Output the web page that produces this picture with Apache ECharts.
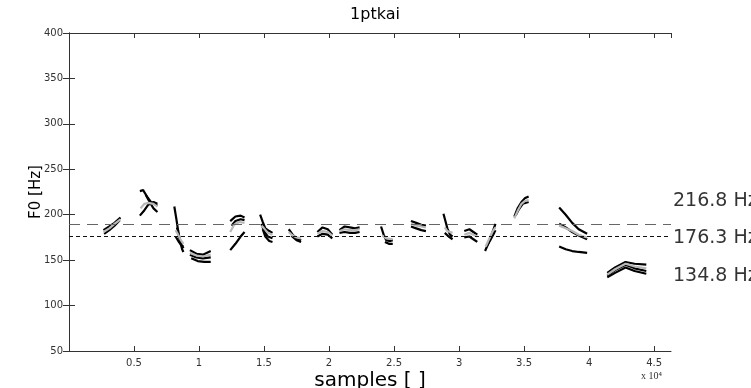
<!DOCTYPE html>
<html>
<head>
<meta charset="utf-8">
<script src="https://cdn.jsdelivr.net/npm/echarts@6/dist/echarts.min.js"></script>
<style>
html,body{margin:0;padding:0;background:#fff;overflow:hidden;}
#chart{width:751px;height:388px;}
</style>
</head>
<body>
<div id="chart"></div>
<script>
// x ticks (in units of 10^4 samples)
const xTickLabels = ['0.5','1','1.5','2','2.5','3','3.5','4','4.5'];
const yTickLabels = [50,100,150,200,250,300,350,400];
const refLevels = [176.3, 189.7];           // dashed mean line, dash-dot line
const rightLabelValues = [216.8, 176.3, 134.8];

// F0 contour tracks: each is a list of voiced segments of [sample, Hz]
const black1 = [
 [[2650,183],[3100,187],[3500,191],[3960,197]],
 [[5450,226],[5700,227],[6000,220],[6300,214],[6800,210]],
 [[8100,209],[8250,196],[8400,182],[8550,170],[8800,163]],
 [[9300,161],[9800,157],[10300,156],[10900,160]],
 [[12400,193],[12800,198],[13200,199],[13500,197]],
 [[14700,200],[14900,192],[15100,185],[15400,182],[15650,180]],
 [[16900,184],[17200,178],[17500,174],[17850,172]],
 [[19100,181],[19500,186],[19900,184],[20250,178]],
 [[20800,183],[21200,187],[21600,186],[22000,185],[22350,186]],
 [[24000,187],[24200,178],[24400,172],[24700,171],[24900,172]],
 [[26300,193],[26700,191],[27100,189],[27450,188]],
 [[28800,201],[28950,193],[29100,185],[29300,178],[29500,176]],
 [[30400,182],[30800,184],[31100,181],[31400,178]],
 [[32000,160],[32300,170],[32600,182],[32800,190]],
 [[34250,198],[34500,207],[34800,214],[35050,218],[35350,220]],
 [[37700,208],[38200,200],[38700,191],[39200,184],[39850,179]],
 [[41400,136],[42000,142],[42800,148],[43500,146],[44400,145]]
];
const black2 = [
 [[2700,179],[3100,183],[3500,188],[3900,194]],
 [[5450,199],[5800,205],[6100,211],[6500,214],[6800,212]],
 [[8300,186],[8500,174],[8700,162],[8800,159]],
 [[9300,156],[9800,153],[10300,152],[10900,153]],
 [[12500,188],[12800,193],[13200,195],[13500,194]],
 [[14800,190],[15000,182],[15300,176],[15650,174]],
 [[17100,177],[17500,172],[17850,170]],
 [[19100,176],[19500,179],[19900,178],[20250,174]],
 [[20800,180],[21200,181],[21600,180],[22000,180],[22350,181]],
 [[24300,170],[24600,168],[24900,168]],
 [[26300,187],[26700,185],[27100,183],[27450,182]],
 [[28900,180],[29200,176],[29500,173]],
 [[30400,175],[30800,176],[31100,173],[31400,170]],
 [[32150,166],[32400,172],[32700,180],[32800,183]],
 [[34350,199],[34600,206],[34900,212],[35350,214]],
 [[37700,190],[38200,186],[38700,181],[39200,177],[39850,173]],
 [[41400,133],[42000,139],[42800,145],[43500,141],[44400,138]]
];
const black3 = [
 [[5900,222],[6200,214],[6500,207],[6800,203]],
 [[8200,176],[8450,170],[8650,166],[8800,165]],
 [[9400,152],[9900,149],[10400,148],[10900,148]],
 [[12400,161],[12800,168],[13200,176],[13500,181]],
 [[14900,184],[15100,176],[15400,171],[15650,170]],
 [[37700,165],[38200,162],[38700,160],[39200,159],[39850,158]],
 [[41400,131],[42000,136],[42800,142],[43500,138],[44400,135]]
];
const gray1 = [
 [[2650,181],[3100,185],[3500,190],[3960,195]],
 [[5500,207],[5800,212],[6100,213],[6500,212],[6800,209]],
 [[8200,183],[8400,178],[8600,172],[8800,168]],
 [[9300,158],[9800,155],[10300,154],[10900,156]],
 [[12400,181],[12700,189],[13100,192],[13500,191]],
 [[14800,188],[15000,185],[15300,180],[15650,178]],
 [[16900,181],[17200,177],[17500,175],[17850,174]],
 [[19100,179],[19500,182],[19900,181],[20250,177]],
 [[20800,182],[21200,184],[21600,183],[22000,183],[22350,184]],
 [[24100,177],[24400,174],[24900,173]],
 [[26300,190],[26700,188],[27100,187],[27450,186]],
 [[28900,186],[29100,182],[29500,180]],
 [[30400,178],[30800,180],[31100,178],[31400,176]],
 [[32050,165],[32300,173],[32600,182],[32800,186]],
 [[34250,196],[34500,204],[34800,212],[35050,215],[35350,216]],
 [[37700,188],[38200,185],[38700,182],[39200,178],[39850,175]],
 [[41400,134],[42000,140],[42800,146],[43500,143],[44400,141]]
];

const X_MAX = 46300;

function joinSegments(segs){
  const out = [];
  segs.forEach((s,i)=>{
    if(i>0) out.push(['-','-']);
    s.forEach(p=>out.push(p));
  });
  return out;
}

const chart = echarts.init(document.getElementById('chart'), null, {renderer:'canvas'});
const tickFont = {fontFamily:'DejaVu Sans', fontSize:10, color:'#333'};
const axisLineStyle = {color:'#333', width:1};

function trackSeries(segs, color, width){
  return {
    type:'line', data: joinSegments(segs), showSymbol:false, symbol:'none',
    lineStyle:{color:color, width:width}, connectNulls:false, animation:false,
    silent:true, z:3
  };
}

const option = {
  animation:false,
  backgroundColor:'#fff',
  title:{text:'1ptkai', left:370, top:2, textAlign:'center',
    textStyle:{fontFamily:'DejaVu Sans', fontSize:16, fontWeight:'normal', color:'#000'}},
  grid:{left:69, right:80, top:33, bottom:37, containLabel:false, outerBoundsMode:'none'},
  xAxis:[{
    type:'value', min:0, max:X_MAX, interval:5000, position:'bottom',
    axisLine:{show:true, lineStyle:axisLineStyle},
    axisTick:{show:true, inside:true, length:5, lineStyle:axisLineStyle},
    axisLabel:Object.assign({margin:7, showMaxLabel:false, showMinLabel:false,
      formatter:v=>{const i=Math.round(v/5000)-1; return (v%5000===0 && i>=0 && i<xTickLabels.length)?xTickLabels[i]:'';}}, tickFont),
    splitLine:{show:false},
    name:'samples [ ]', nameLocation:'middle', nameGap:20, nameMoveOverlap:false,
    nameTextStyle:{fontFamily:'DejaVu Sans', fontSize:20, color:'#000'}
  },{
    type:'value', min:0, max:X_MAX, interval:5000, position:'top',
    axisLine:{show:true, lineStyle:axisLineStyle},
    axisTick:{show:true, inside:true, length:5, lineStyle:axisLineStyle},
    axisLabel:{show:false}, splitLine:{show:false}
  }],
  yAxis:[{
    type:'value', min:50, max:400, interval:50, position:'left',
    axisLine:{show:true, lineStyle:axisLineStyle},
    axisTick:{show:true, inside:true, length:6, lineStyle:axisLineStyle},
    axisLabel:Object.assign({margin:6, formatter:v=>yTickLabels.indexOf(v)>=0?String(v):''}, tickFont),
    splitLine:{show:false},
    name:'F0 [Hz]', nameLocation:'middle', nameGap:25, nameRotate:90, nameMoveOverlap:false,
    nameTextStyle:{fontFamily:'DejaVu Sans', fontSize:15, color:'#000'}
  },{
    type:'value', min:50, max:400, interval:50, position:'right',
    axisLine:{show:true, lineStyle:axisLineStyle},
    axisTick:{show:true, inside:true, length:6, lineStyle:axisLineStyle},
    axisLabel:{show:false}, splitLine:{show:false}
  }],
  graphic:[{
    type:'text', left:641, top:371,
    style:{text:'x 10\u2074', fontFamily:'Liberation Serif', fontSize:10, fill:'#333'}
  }],
  series:[
    {
      type:'line', data:[], silent:true, animation:false,
      markLine:{
        silent:true, symbol:['none','none'], animation:false,
        label:{show:false},
        data:[
          {yAxis:refLevels[0], lineStyle:{color:'#111', type:[4,3], width:1}},
          {yAxis:refLevels[1], lineStyle:{color:'#666', type:[11,7], width:1}}
        ]
      }
    },
    trackSeries(black1,'#000',2.2),
    trackSeries(black2,'#000',2.2),
    trackSeries(black3,'#000',2.2),
    trackSeries(gray1,'#b8b8b8',2.2),
    {
      type:'scatter', symbolSize:0, clip:false, silent:true, animation:false,
      data: rightLabelValues.map(v=>[X_MAX, v]),
      label:{show:true, position:'right', distance:2, offset:[0,2],
        formatter:p=>p.value[1].toFixed(1)+' Hz',
        fontFamily:'DejaVu Sans', fontSize:19, color:'#000'}
    }
  ]
};
chart.setOption(option);
</script>
</body>
</html>
